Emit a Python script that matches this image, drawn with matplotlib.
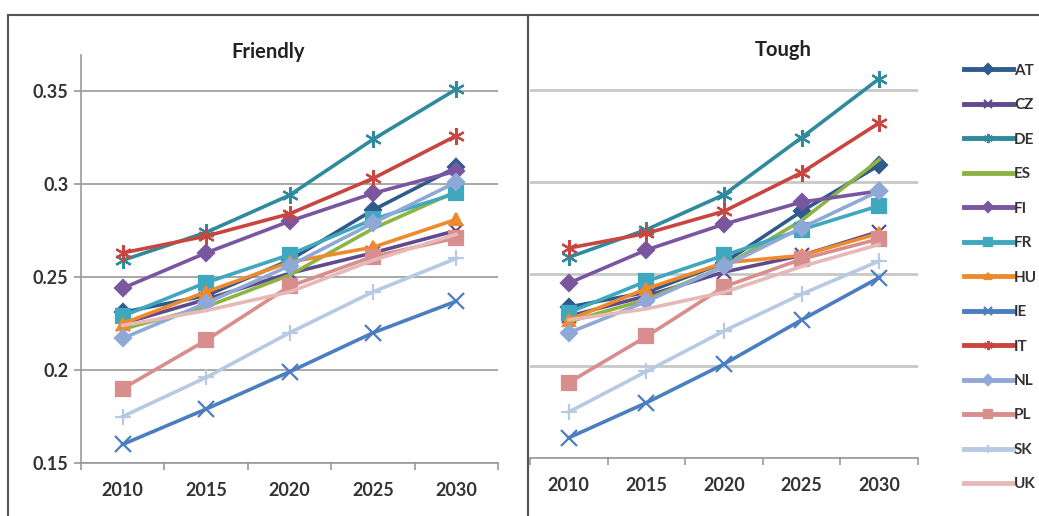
import matplotlib.pyplot as plt
from matplotlib.patches import Rectangle

years = ["2010", "2015", "2020", "2025", "2030"]
countries = ["AT", "CZ", "DE", "ES", "FI", "FR", "HU", "IE", "IT", "NL", "PL", "SK", "UK"]

# Friendly scenario
at_friendly = [0.231, 0.240, 0.259, 0.286, 0.309]
cz_friendly = [0.225, 0.238, 0.252, 0.263, 0.275]
de_friendly = [0.259, 0.274, 0.294, 0.324, 0.351]
es_friendly = [0.222, 0.234, 0.251, 0.276, 0.296]
fi_friendly = [0.244, 0.263, 0.280, 0.295, 0.307]
fr_friendly = [0.229, 0.247, 0.262, 0.281, 0.295]
hu_friendly = [0.225, 0.242, 0.258, 0.266, 0.281]
ie_friendly = [0.160, 0.179, 0.199, 0.220, 0.237]
it_friendly = [0.263, 0.272, 0.284, 0.303, 0.326]
nl_friendly = [0.217, 0.236, 0.256, 0.279, 0.301]
pl_friendly = [0.190, 0.216, 0.245, 0.261, 0.271]
sk_friendly = [0.175, 0.196, 0.220, 0.242, 0.260]
uk_friendly = [0.224, 0.232, 0.242, 0.259, 0.273]

# Tough scenario
at_tough = [0.232, 0.240, 0.256, 0.284, 0.309]
cz_tough = [0.227, 0.238, 0.251, 0.260, 0.273]
de_tough = [0.259, 0.274, 0.293, 0.324, 0.356]
es_tough = [0.224, 0.236, 0.254, 0.279, 0.312]
fi_tough = [0.245, 0.263, 0.277, 0.289, 0.295]
fr_tough = [0.229, 0.246, 0.260, 0.274, 0.287]
hu_tough = [0.225, 0.242, 0.256, 0.260, 0.272]
ie_tough = [0.161, 0.180, 0.201, 0.225, 0.248]
it_tough = [0.264, 0.272, 0.284, 0.305, 0.332]
nl_tough = [0.218, 0.235, 0.254, 0.275, 0.295]
pl_tough = [0.191, 0.216, 0.243, 0.258, 0.269]
sk_tough = [0.175, 0.197, 0.219, 0.239, 0.257]
uk_tough = [0.225, 0.231, 0.240, 0.254, 0.266]

friendly = [at_friendly, cz_friendly, de_friendly, es_friendly, fi_friendly, fr_friendly,
            hu_friendly, ie_friendly, it_friendly, nl_friendly, pl_friendly, sk_friendly, uk_friendly]
tough = [at_tough, cz_tough, de_tough, es_tough, fi_tough, fr_tough,
         hu_tough, ie_tough, it_tough, nl_tough, pl_tough, sk_tough, uk_tough]

colors = ["#2F5A8C", "#5E4A8C", "#2E8A9C", "#8DB443", "#7A55A0", "#3FA7BE", "#EE8A2E",
          "#4A7EC0", "#C8463F", "#8EA9D8", "#D88E8C", "#B8C9E4", "#E6B9B8"]
star = (6, 2, 0)
markers = ["D", "x", star, None, "D", "s", "^", "x", star, "D", "s", "+", None]
msizes = [8.5, 10, 12, 0, 8.5, 9.5, 9, 11, 12, 8.5, 10.5, 11, 0]

plt.rcParams["font.family"] = ["Lato", "DejaVu Sans"]

fig = plt.figure(figsize=(10.39, 5.16), dpi=100)

ax1 = fig.add_axes([81 / 1039, 53 / 516, 417 / 1039, 408 / 516])
ax2 = fig.add_axes([530 / 1039, 58 / 516, 388 / 1039, 404 / 516])

x = list(range(len(years)))


def draw(ax, data, grid_color, grid_lw):
    for vals, c, m, ms, name in zip(data, colors, markers, msizes, countries):
        ax.plot(x, vals, color=c, lw=2.6, marker=m, markersize=ms,
                markeredgewidth=1.6, label=name)
    ax.set_xlim(-0.5, 4.5)
    ax.set_ylim(0.15, 0.3694)
    ax.set_yticks([0.15, 0.2, 0.25, 0.3, 0.35])
    ax.yaxis.grid(True, color=grid_color, lw=grid_lw)
    ax.set_axisbelow(True)
    ax.set_xticks([i - 0.5 for i in range(6)], minor=False)
    ax.set_xticklabels([])
    ax.set_xticks(x, minor=True)
    ax.set_xticklabels(years, minor=True, fontsize=13, fontweight="bold", color="#333333")
    ax.tick_params(axis="x", which="minor", length=0, pad=14)
    ax.tick_params(axis="x", which="major", length=5, color="#999999", width=1.2)
    for s in ["top", "right"]:
        ax.spines[s].set_visible(False)
    ax.spines["bottom"].set_color("#999999")
    ax.spines["bottom"].set_linewidth(1.2)


draw(ax1, friendly, "#999999", 1.2)
draw(ax2, tough, "#c8c8c8", 2.0)

ax1.spines["left"].set_color("#999999")
ax1.spines["left"].set_linewidth(1.2)
ax1.tick_params(axis="y", length=5, color="#999999", width=1.2, labelsize=13, pad=4)
ax1.set_yticklabels(["0.15", "0.2", "0.25", "0.3", "0.35"])
for lbl in ax1.get_yticklabels():
    lbl.set_fontweight("bold")
    lbl.set_color("#333333")

ax2.spines["left"].set_visible(False)
ax2.tick_params(axis="y", length=0, labelleft=False)

fig.text(268 / 1039, 1 - 52 / 516, "Friendly", ha="center", va="center",
         fontsize=14.5, fontweight="bold", color="#222222")
fig.text(783 / 1039, 1 - 50 / 516, "Tough", ha="center", va="center",
         fontsize=14.5, fontweight="bold", color="#222222")

# panel borders
fig.add_artist(Rectangle((8 / 1039, -0.1), 520 / 1039, 1.1 - 15 / 516, transform=fig.transFigure,
                         fill=False, edgecolor="#555555", lw=1.5))
fig.add_artist(Rectangle((528 / 1039, -0.1), 0.6, 1.1 - 15 / 516, transform=fig.transFigure,
                         fill=False, edgecolor="#555555", lw=1.5))

handles, labels = ax2.get_legend_handles_labels()
leg = fig.legend(handles, labels, loc="upper left", bbox_to_anchor=(950 / 1039, 1 - 50 / 516),
                 frameon=False, fontsize=11, handlelength=3.2, handletextpad=0.1,
                 labelspacing=1.34, markerscale=0.55)
for t in leg.get_texts():
    t.set_fontweight("bold")
    t.set_color("#333333")
for h in leg.legend_handles:
    h.set_linewidth(3.5)

fig.savefig("out.png", dpi=100)
